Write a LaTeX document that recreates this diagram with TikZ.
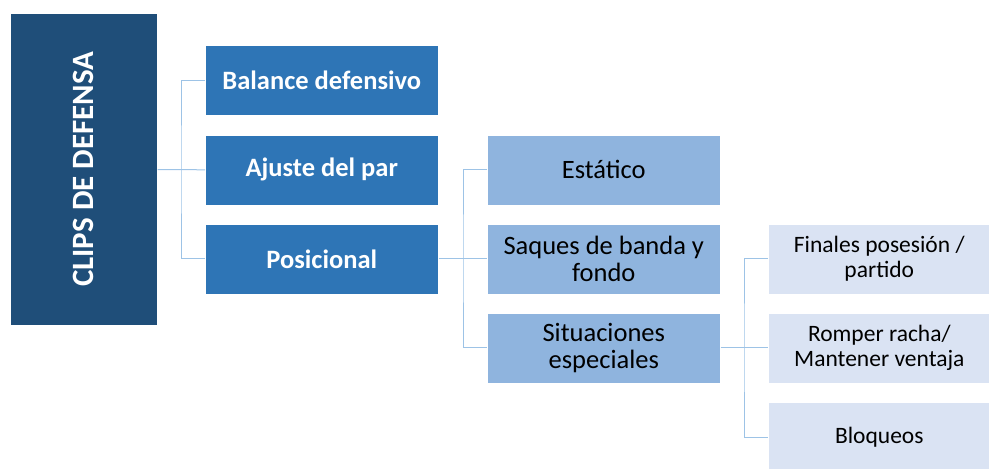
\documentclass[tikz,border=0pt]{standalone}
\usepackage{fontspec}
\setmainfont{Carlito}
\begin{document}
\begin{tikzpicture}[x=1pt,y=-1pt,
  box/.style={draw=white, line width=0.6pt, anchor=north west, inner sep=0pt, align=center},
  rootbox/.style={box, fill=rootc, minimum width=147pt, minimum height=312pt},
  lvla/.style={box, fill=lvlac, minimum width=233pt, minimum height=70pt, text=white, font=\fontsize{26.5}{30}\selectfont\bfseries},
  lvlb/.style={box, fill=lvlbc, minimum width=233pt, minimum height=70pt, text=black, font=\fontsize{26.5}{27.5}\selectfont},
  lvlc/.style={box, fill=lvlcc, minimum width=222pt, minimum height=70pt, text=black, font=\fontsize{23.5}{25}\selectfont},
  conn/.style={draw=connc, line width=1pt}
]
\definecolor{rootc}{RGB}{31,78,121}
\definecolor{lvlac}{RGB}{46,117,182}
\definecolor{lvlbc}{RGB}{143,180,222}
\definecolor{lvlcc}{RGB}{218,227,243}
\definecolor{connc}{RGB}{157,195,230}
\useasboundingbox (0,0) rectangle (989,469);
\node[rootbox] (root) at (10,13) {};
\node[rotate=90, text=white, font=\fontsize{31}{36}\selectfont\bfseries] (roottext) at (root.center) {CLIPS DE DEFENSA};
\node[lvla] (bal) at (205,45) {Balance defensivo};
\node[lvla] (aju) at (205,134.5) {Ajuste del par};
\node[lvla] (pos) at (205,223.5) {Posicional};
\node[lvlb] (est) at (487,134.5) {Estático};
\node[lvlb] (saq) at (487,223.5) {Saques de banda y\\fondo};
\node[lvlb] (sit) at (487,312.5) {Situaciones\\especiales};
\node[lvlc] (fin) at (768,223.5) {Finales posesión /\\partido};
\node[lvlc] (rom) at (768,312.5) {Romper racha/\\Mantener ventaja};
\node[lvlc] (blo) at (768,402) {Bloqueos};
\coordinate (j1) at (181,169.5);
\coordinate (j2) at (463,258.5);
\coordinate (j3) at (744,347.5);
\draw[conn] (root.east |- j1) -- (aju.west);
\draw[conn] (bal.west) -| (j1) |- (pos.west);
\draw[conn] (pos.east) -- (saq.west);
\draw[conn] (est.west) -| (j2) |- (sit.west);
\draw[conn] (sit.east) -- (rom.west);
\draw[conn] (fin.west) -| (j3) |- (blo.west);
\end{tikzpicture}
\end{document}
